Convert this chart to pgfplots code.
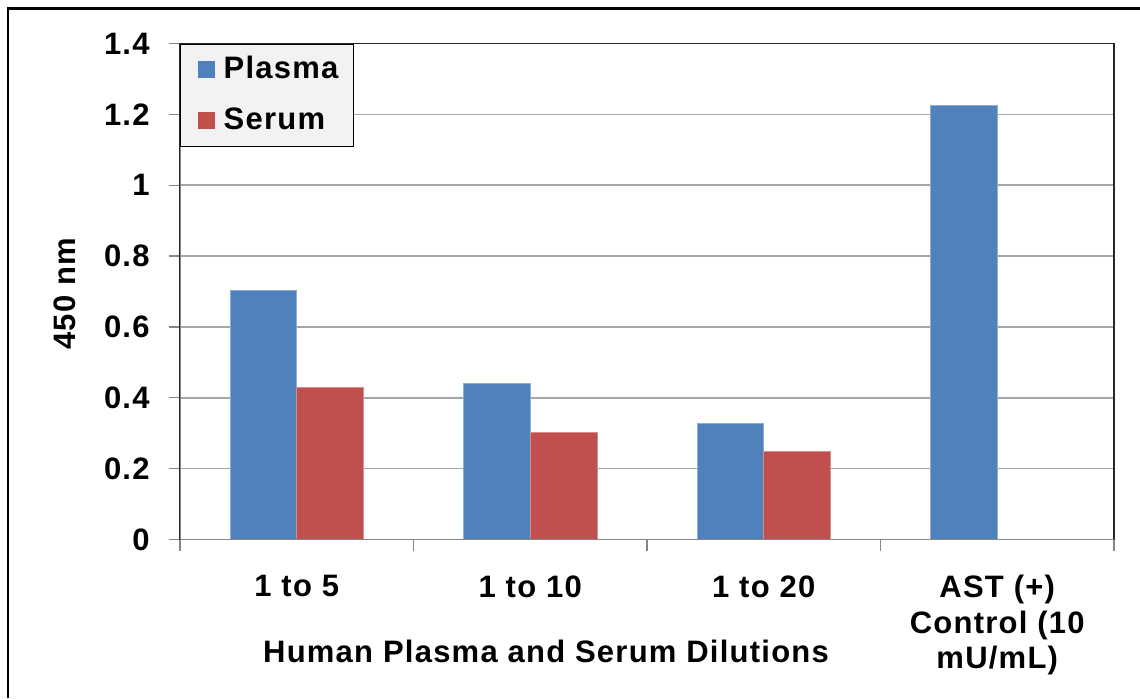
\documentclass[border=0pt]{standalone}
\usepackage{fontspec}
\setmainfont{Liberation Sans}[LetterSpace=4]
\usepackage{pgfplots}
\pgfplotsset{compat=1.18}
\definecolor{plasma}{HTML}{4F81BD}
\definecolor{serum}{HTML}{C0504D}
\definecolor{gridc}{HTML}{A6A6A6}
\definecolor{axisc}{HTML}{868686}
\definecolor{legfill}{HTML}{F2F2F2}
\newcommand\cf{\fontsize{15.5}{17.75}\selectfont\bfseries}
\begin{document}
\begin{tikzpicture}
\useasboundingbox (0,0) rectangle (570pt,349pt);
\draw[line width=1.3pt] (4pt,0) -- (4pt,344.65pt) -- (570pt,344.65pt);
\begin{axis}[
  at={(90pt,79.25pt)}, anchor=south west,
  scale only axis, width=467pt, height=248pt,
  ybar=0pt, bar width=33.35pt,
  xmin=-0.5, xmax=3.5, ymin=0, ymax=1.4,
  xtick={0,1,2,3},
  xticklabels={1 to 5, 1 to 10, 1 to 20, {AST (+)\\Control (10\\mU/mL)}},
  xticklabel style={align=center, anchor=north, inner sep=0pt, yshift=-12.25pt, font=\cf},
  major x tick style={draw=none},
  extra x ticks={-0.5,0.5,1.5,2.5,3.5},
  extra x tick labels={},
  extra x tick style={major tick length=5.5pt, tick align=outside, major x tick style={draw=axisc, line width=0.6pt}, grid=none},
  ytick={0,0.2,0.4,0.6,0.8,1,1.2,1.4},
  yticklabels={0,0.2,0.4,0.6,0.8,1,1.2,1.4},
  yticklabel style={anchor=east, inner sep=0pt, xshift=-9.5pt, font=\cf},
  ymajorgrids, grid style={draw=gridc, line width=0.75pt},
  major y tick style={draw=axisc, line width=0.6pt},
  major tick length=5.5pt, tick align=outside,
  tick pos=left,
  axis line style={draw=black!85, line width=0.6pt},
  every axis y label/.style={at={(axis description cs:-0.1124,0.495)}, rotate=90, anchor=base, font=\cf},
  ylabel={450 nm},
  every axis x label/.style={at={(axis description cs:0.3919,-0.247)}, anchor=base, font=\cf},
  xlabel={Human Plasma and Serum Dilutions},
  legend style={at={(0,1)}, anchor=north west, draw=black, fill=legfill, line width=0.6pt,
    inner xsep=0pt, inner ysep=0pt, row sep=0pt, column sep=0pt, font=\cf,
    nodes={inner sep=0pt, text height=9.3pt, text depth=0pt, minimum height=25.5pt, text width=65pt, align=left}},
  legend cell align=left,
  every axis plot post/.append style={legend image code/.code={\path (-8.65pt,0pt) (12.5pt,0pt);\fill[##1,draw=none] (0pt,-4.25pt) rectangle (8.5pt,4.25pt);}},
]
\addplot[fill=plasma, draw=plasma!65!white, line width=0.4pt] coordinates {(0,0.703) (1,0.440) (2,0.328) (3,1.224)};
\addplot[fill=serum, draw=serum!65!white, line width=0.4pt] coordinates {(0,0.428) (1,0.301) (2,0.249)};
\legend{Plasma, Serum}
\draw[axisc, line width=0.6pt] (rel axis cs:0,1) -- (rel axis cs:0,0) -- (rel axis cs:1,0);
\end{axis}
\end{tikzpicture}
\end{document}
